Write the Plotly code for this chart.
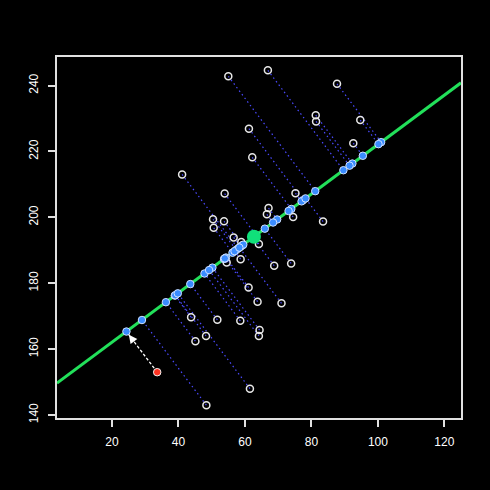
import numpy as np
import plotly.graph_objects as go

# observed points (white hollow circles)
xs = [55.0, 66.9, 87.7, 61.2, 81.3, 81.4, 94.7, 62.2, 92.6, 41.1,
      53.9, 75.2, 67.1, 66.6, 74.5, 83.5, 50.4, 53.7, 50.6, 56.6,
      58.9, 64.2, 58.7, 54.5, 68.8, 73.9, 61.1, 63.8, 71.0, 43.8,
      51.7, 58.6, 64.4, 64.2, 48.3, 45.1, 61.5, 48.4]
ys = [242.8, 244.6, 240.5, 226.9, 231.0, 229.1, 229.5, 218.2, 222.5, 213.0,
      207.2, 207.3, 202.8, 200.9, 200.1, 198.7, 199.4, 198.8, 196.8, 193.9,
      192.5, 191.9, 187.3, 186.3, 185.3, 186.0, 178.7, 174.4, 173.9, 169.7,
      168.9, 168.6, 165.8, 164.0, 164.0, 162.4, 148.0, 143.0]

# principal axis (centre point and slope)
center_x = 62.7
center_y = 194.1
slope = 0.75

# new point (red)
new_x = 33.6
new_y = 153.0

x_ticks = [20, 40, 60, 80, 100, 120]
y_ticks = [140, 160, 180, 200, 220, 240]
x_range = [3.46, 125.0]
y_range = [139.1, 248.65]

u = np.array([1.0, slope]) / np.hypot(1.0, slope)
c = np.array([center_x, center_y])


def project(px, py):
    d = np.array([px, py]) - c
    t = d @ u
    return c + t * u


proj = np.array([project(a, b) for a, b in zip(xs, ys)])
pnew = project(new_x, new_y)

fig = go.Figure()

# dotted connectors
lx, ly = [], []
for (a, b), (p, q) in zip(zip(xs, ys), proj):
    lx += [a, p, None]
    ly += [b, q, None]
fig.add_trace(go.Scatter(x=lx, y=ly, mode="lines",
                         line=dict(color="#4a4aff", width=1.2, dash="1.5px,3px"),
                         hoverinfo="skip"))

# principal line
fig.add_trace(go.Scatter(x=x_range,
                         y=[center_y + slope * (v - center_x) for v in x_range],
                         mode="lines", line=dict(color="#22e05a", width=3),
                         hoverinfo="skip"))

# observed points
fig.add_trace(go.Scatter(x=xs, y=ys, mode="markers",
                         marker=dict(size=7, color="rgba(0,0,0,0)",
                                     line=dict(color="#e8e8e8", width=1.5))))

# projections
fig.add_trace(go.Scatter(x=proj[:, 0], y=proj[:, 1], mode="markers",
                         marker=dict(size=7.5, color="#3a8cff",
                                     line=dict(color="#cfe0ff", width=1))))

# centre point
fig.add_trace(go.Scatter(x=[center_x], y=[center_y], mode="markers",
                         marker=dict(size=14, color="#10e07a",
                                     line=dict(color="#10e07a", width=0))))

# dashed arrow for new point
fig.add_trace(go.Scatter(x=[new_x, pnew[0]], y=[new_y, pnew[1]], mode="lines",
                         line=dict(color="white", width=1.3, dash="3px,2px"),
                         hoverinfo="skip"))
fig.add_trace(go.Scatter(x=[pnew[0]], y=[pnew[1]], mode="markers",
                         marker=dict(size=7.5, color="#3a8cff",
                                     line=dict(color="#cfe0ff", width=1))))
fig.add_trace(go.Scatter(x=[new_x], y=[new_y], mode="markers",
                         marker=dict(size=7.5, color="#ff3322",
                                     line=dict(color="#f0f0f0", width=1))))

dvec = np.array([new_x, new_y]) - pnew
dvec = dvec / np.hypot(*dvec)
fig.add_annotation(x=pnew[0], y=pnew[1], ax=pnew[0] + 4 * dvec[0],
                   ay=pnew[1] + 4 * dvec[1], xref="x", yref="y",
                   axref="x", ayref="y", text="", showarrow=True,
                   arrowhead=2, arrowsize=1.3, arrowwidth=1.3,
                   arrowcolor="white", standoff=4)

axis_common = dict(showgrid=False, zeroline=False, showline=True,
                   linecolor="#e0e0e0", linewidth=1.5, mirror=True,
                   ticks="outside", ticklen=7, tickwidth=1.5,
                   tickcolor="#e0e0e0",
                   tickfont=dict(color="white", size=12,
                                 family="Liberation Sans, Arial"))

fig.update_layout(
    width=490, height=490,
    margin=dict(l=57, r=29, t=57, b=72),
    paper_bgcolor="black", plot_bgcolor="black",
    showlegend=False,
    xaxis=dict(range=x_range, tickvals=x_ticks, ticklabelstandoff=5,
               **axis_common),
    yaxis=dict(range=y_range, tickvals=y_ticks, tickangle=-90,
               ticklabelstandoff=5, **axis_common),
)

fig.write_html("out.html",
               config={"displayModeBar": False},
               post_script="document.body.style.margin='0';"
                           "document.body.style.background='black';")
